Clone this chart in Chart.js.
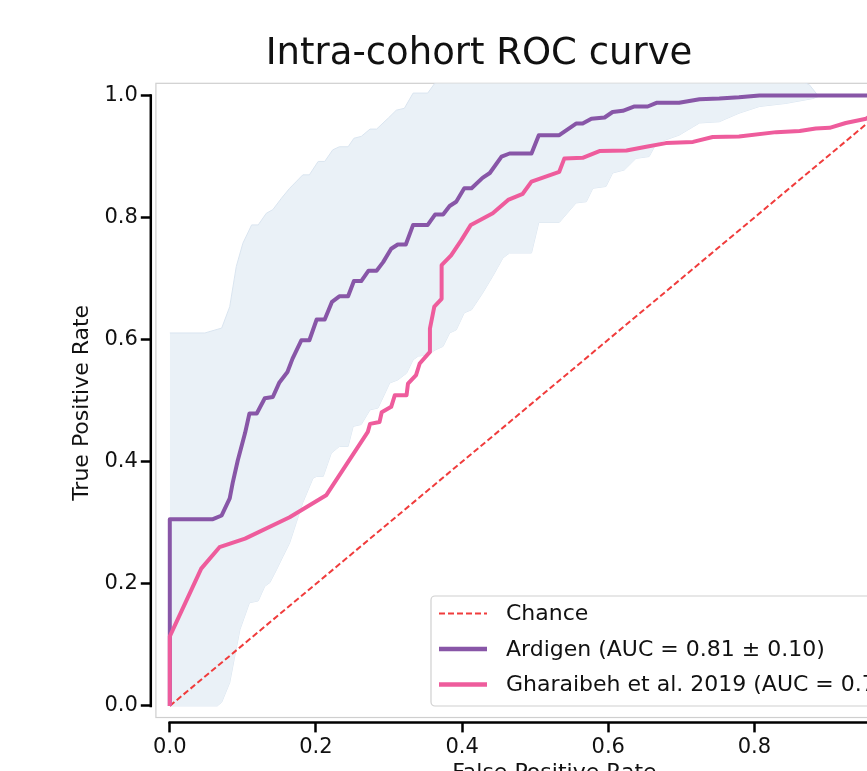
<!DOCTYPE html>
<html><head><meta charset="utf-8">
<script src="https://cdn.jsdelivr.net/npm/chart.js@4.4.1/dist/chart.umd.min.js"></script>
<style>html,body{margin:0;padding:0;overflow:hidden;background:#fff;width:867px;height:771px}</style>
</head><body>
<canvas id="c" width="958" height="790" style="width:958px;height:790px;display:block"></canvas>
<script>
// ---- data ----
const chartTitle = 'Intra-cohort ROC curve';
const xTitle = 'False Positive Rate';
const yTitle = 'True Positive Rate';
const tickValues = [0, 0.2, 0.4, 0.6, 0.8, 1.0];
const seriesLabels = ['Chance', 'Ardigen (AUC = 0.81 \u00b1 0.10)', 'Gharaibeh et al. 2019 (AUC = 0.73)'];

const chanceFpr = [0, 1];
const chanceTpr = [0, 1];

const ardigenFpr = [0, 0, 0.059, 0.071, 0.082, 0.086, 0.093, 0.103, 0.109, 0.119, 0.130, 0.141, 0.150, 0.161, 0.168, 0.180, 0.191, 0.201, 0.212, 0.222, 0.232, 0.244, 0.252, 0.262, 0.272, 0.283, 0.292, 0.303, 0.312, 0.323, 0.333, 0.353, 0.363, 0.374, 0.383, 0.392, 0.403, 0.413, 0.428, 0.438, 0.454, 0.465, 0.495, 0.505, 0.533, 0.556, 0.565, 0.577, 0.595, 0.606, 0.620, 0.636, 0.654, 0.666, 0.697, 0.725, 0.752, 0.779, 0.807, 1.0];
const ardigenTpr = [0, 0.306, 0.306, 0.312, 0.340, 0.365, 0.402, 0.447, 0.479, 0.479, 0.504, 0.506, 0.530, 0.547, 0.569, 0.599, 0.599, 0.633, 0.633, 0.662, 0.671, 0.671, 0.696, 0.696, 0.713, 0.713, 0.727, 0.749, 0.756, 0.756, 0.788, 0.788, 0.805, 0.805, 0.819, 0.826, 0.848, 0.848, 0.865, 0.873, 0.900, 0.905, 0.905, 0.935, 0.935, 0.954, 0.954, 0.962, 0.964, 0.973, 0.975, 0.982, 0.982, 0.988, 0.988, 0.994, 0.995, 0.997, 1.0, 1.0];

const gharFpr = [0, 0, 0.043, 0.068, 0.103, 0.164, 0.214, 0.271, 0.274, 0.287, 0.290, 0.303, 0.308, 0.324, 0.326, 0.337, 0.342, 0.356, 0.356, 0.362, 0.372, 0.372, 0.385, 0.399, 0.412, 0.442, 0.463, 0.483, 0.495, 0.533, 0.540, 0.565, 0.588, 0.625, 0.652, 0.679, 0.716, 0.743, 0.779, 0.830, 0.862, 0.884, 0.903, 0.925, 0.953, 1.0];
const gharTpr = [0, 0.114, 0.225, 0.260, 0.274, 0.309, 0.345, 0.449, 0.462, 0.465, 0.481, 0.490, 0.509, 0.509, 0.528, 0.542, 0.561, 0.580, 0.618, 0.654, 0.667, 0.722, 0.738, 0.763, 0.788, 0.807, 0.829, 0.839, 0.859, 0.875, 0.897, 0.898, 0.909, 0.910, 0.916, 0.922, 0.924, 0.932, 0.933, 0.940, 0.942, 0.946, 0.947, 0.955, 0.962, 1.0];

const upperFpr = [0, 0.048, 0.071, 0.082, 0.091, 0.100, 0.112, 0.121, 0.132, 0.141, 0.153, 0.164, 0.182, 0.191, 0.203, 0.212, 0.223, 0.232, 0.244, 0.252, 0.262, 0.274, 0.283, 0.299, 0.310, 0.321, 0.333, 0.353, 0.362, 0.380, 0.420, 0.500, 0.600, 0.700, 0.800, 0.860, 0.875, 0.887, 1.0];
const upperTpr = [0.611, 0.611, 0.619, 0.654, 0.720, 0.758, 0.788, 0.788, 0.807, 0.813, 0.832, 0.848, 0.870, 0.870, 0.892, 0.892, 0.911, 0.916, 0.916, 0.930, 0.933, 0.945, 0.945, 0.963, 0.976, 0.979, 1.004, 1.004, 1.019, 1.035, 1.050, 1.070, 1.070, 1.050, 1.035, 1.025, 1.018, 1.0, 1.0];

const lowerFpr = [0, 0.065, 0.071, 0.082, 0.089, 0.096, 0.109, 0.121, 0.130, 0.137, 0.146, 0.155, 0.164, 0.173, 0.182, 0.196, 0.201, 0.210, 0.221, 0.232, 0.244, 0.251, 0.262, 0.274, 0.285, 0.301, 0.312, 0.324, 0.333, 0.340, 0.353, 0.363, 0.374, 0.383, 0.392, 0.403, 0.413, 0.428, 0.442, 0.456, 0.465, 0.495, 0.505, 0.533, 0.556, 0.570, 0.579, 0.597, 0.606, 0.622, 0.638, 0.656, 0.666, 0.697, 0.725, 0.752, 0.779, 0.807, 0.843, 0.880, 0.889, 1.0];
const lowerTpr = [0, 0, 0.006, 0.038, 0.082, 0.125, 0.169, 0.172, 0.196, 0.202, 0.223, 0.245, 0.267, 0.300, 0.333, 0.373, 0.376, 0.376, 0.414, 0.425, 0.425, 0.458, 0.461, 0.485, 0.488, 0.529, 0.534, 0.545, 0.567, 0.573, 0.575, 0.583, 0.589, 0.611, 0.616, 0.644, 0.649, 0.676, 0.704, 0.734, 0.742, 0.742, 0.792, 0.792, 0.824, 0.826, 0.848, 0.851, 0.873, 0.878, 0.897, 0.900, 0.922, 0.935, 0.955, 0.957, 0.971, 0.982, 0.987, 0.995, 0.999, 1.0];

// ---- styles ----
const FONT = '"DejaVu Sans", sans-serif';
const colChance = '#f03c3c';
const colArdigen = '#8856a7';
const colGhar = '#ee5c9c';
const colBand = 'rgb(234,241,247)';
const colBandEdge = 'rgb(218,229,240)';

const pts = (xs, ys) => xs.map((x, i) => ({x: x, y: ys[i]}));

const framePlugin = {
  id: 'frameSpines',
  beforeDatasetsDraw(chart) {
    const {ctx, scales: {x, y}} = chart;
    ctx.save();
    ctx.strokeStyle = '#cfcfcf';
    ctx.lineWidth = 1.2;
    const l = x.getPixelForValue(-0.019), r = x.getPixelForValue(1.02);
    const t = y.getPixelForValue(1.02), b = y.getPixelForValue(-0.019);
    ctx.strokeRect(l, t, r - l, b - t);
    ctx.restore();
  },
  afterDatasetsDraw(chart) {
    const {ctx, chartArea, scales: {x, y}} = chart;
    ctx.save();
    ctx.strokeStyle = '#000';
    ctx.lineWidth = 2.5;
    ctx.lineCap = 'square';
    ctx.beginPath();
    ctx.moveTo(chartArea.left, y.getPixelForValue(0));
    ctx.lineTo(chartArea.left, y.getPixelForValue(1));
    ctx.moveTo(x.getPixelForValue(0), chartArea.bottom);
    ctx.lineTo(x.getPixelForValue(1), chartArea.bottom);
    ctx.stroke();
    ctx.restore();
  },
  afterDraw(chart) {
    const {ctx} = chart;
    ctx.save();
    ctx.font = '22px ' + FONT;
    const textX = 506, lineX0 = 439, lineX1 = 487;
    const rows = [613.5, 649, 684.5];
    let w = 0;
    seriesLabels.forEach(s => { w = Math.max(w, ctx.measureText(s).width); });
    const bx = 431, by = 596, bw = textX - bx + w + 10, bh = 110;
    ctx.fillStyle = 'rgba(255,255,255,0.85)';
    ctx.strokeStyle = '#d0d0d0';
    ctx.lineWidth = 1.2;
    ctx.beginPath();
    ctx.roundRect(bx, by, bw, bh, 4);
    ctx.fill();
    ctx.stroke();
    const styles = [
      {c: colChance, w: 2, d: [6, 3]},
      {c: colArdigen, w: 4.5, d: []},
      {c: colGhar, w: 4.5, d: []}
    ];
    styles.forEach((s, i) => {
      ctx.strokeStyle = s.c; ctx.lineWidth = s.w; ctx.setLineDash(s.d);
      ctx.beginPath(); ctx.moveTo(lineX0, rows[i]); ctx.lineTo(lineX1, rows[i]); ctx.stroke();
    });
    ctx.setLineDash([]);
    ctx.fillStyle = '#111';
    ctx.textBaseline = 'middle';
    ctx.textAlign = 'left';
    seriesLabels.forEach((s, i) => ctx.fillText(s, textX, rows[i] + 1));
    ctx.restore();
  }
};

const setTicks = axis => { axis.ticks = tickValues.map(v => ({value: v})); };

new Chart(document.getElementById('c'), {
  type: 'line',
  data: {
    datasets: [
      {label: seriesLabels[0], data: pts(chanceFpr, chanceTpr), borderColor: colChance, borderWidth: 2, borderDash: [6, 3], pointRadius: 0, fill: false, order: 2},
      {label: seriesLabels[1], data: pts(ardigenFpr, ardigenTpr), borderColor: colArdigen, borderWidth: 4, pointRadius: 0, fill: false, order: 1},
      {label: seriesLabels[2], data: pts(gharFpr, gharTpr), borderColor: colGhar, borderWidth: 4, pointRadius: 0, fill: false, order: 0},
      {label: 'upper', data: pts(upperFpr, upperTpr), borderColor: colBandEdge, borderWidth: 1, backgroundColor: colBand, pointRadius: 0, fill: '+1', order: 4},
      {label: 'lower', data: pts(lowerFpr, lowerTpr), borderColor: colBandEdge, borderWidth: 1, pointRadius: 0, fill: false, order: 4}
    ]
  },
  options: {
    responsive: false,
    devicePixelRatio: 1,
    animation: false,
    events: [],
    layout: {padding: {left: 0, right: 0, top: 0, bottom: 0}},
    elements: {line: {tension: 0, borderJoinStyle: 'round', borderCapStyle: 'butt'}},
    plugins: {
      legend: {display: false},
      tooltip: {enabled: false},
      title: {display: true, text: chartTitle, color: '#111', font: {family: FONT, size: 37, weight: 'normal'}, padding: {top: 32, bottom: 6.9}}
    },
    scales: {
      x: {
        type: 'linear', min: -0.026, max: 1.0787,
        afterBuildTicks: setTicks,
        grid: {drawOnChartArea: false, drawTicks: true, tickLength: 10, tickWidth: 2.5, tickColor: '#000'},
        border: {display: false},
        ticks: {color: '#111', font: {family: FONT, size: 21}, padding: 3, maxRotation: 0, callback: v => v.toFixed(1)},
        title: {display: true, text: xTitle, color: '#111', font: {family: FONT, size: 22}, padding: {top: -4, bottom: 4}}
      },
      y: {
        type: 'linear', min: -0.027, max: 1.02,
        afterBuildTicks: setTicks,
        grid: {drawOnChartArea: false, drawTicks: true, tickLength: 10, tickWidth: 2.5, tickColor: '#000'},
        border: {display: false},
        ticks: {color: '#111', font: {family: FONT, size: 21}, padding: 3, callback: v => v.toFixed(1)},
        title: {display: true, text: yTitle, color: '#111', font: {family: FONT, size: 22}, padding: {top: 69, bottom: 6}}
      }
    }
  },
  plugins: [framePlugin]
});
</script>
</body></html>
